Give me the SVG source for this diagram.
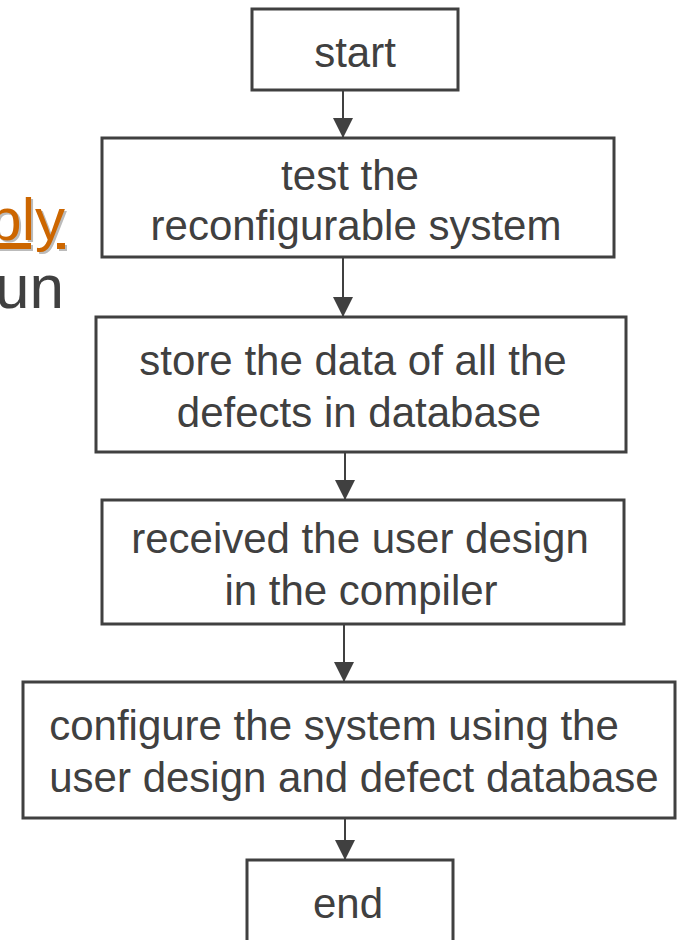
<svg xmlns="http://www.w3.org/2000/svg" width="681" height="940" viewBox="0 0 681 940">
<style>
.box{fill:#fff;stroke:#404040;stroke-width:3}
.t{font-family:"Liberation Sans",Arial,sans-serif;font-size:42px;fill:#404040;text-anchor:middle}
.c{stroke:#404040;stroke-width:2;fill:none;marker-end:url(#ah)}
</style>
<defs>
<marker id="ah" markerUnits="userSpaceOnUse" markerWidth="20" markerHeight="20" refX="20" refY="10" orient="auto" viewBox="0 0 20 20">
<path d="M0,0 L20,10 L0,20 z" fill="#404040"/>
</marker>
</defs>
<rect width="681" height="940" fill="#fff"/>
<g id="side-text" font-family="Liberation Sans, Arial, sans-serif" font-size="60">
<text x="67" y="242" text-anchor="end" fill="#bbbbbb" text-decoration="underline">bly</text>
<text x="65" y="240" text-anchor="end" fill="#cc6600" text-decoration="underline">bly</text>
<text x="64" y="308" text-anchor="end" fill="#404040" font-size="62">un</text>
</g>
<g id="connectors">
<line class="c" x1="343" y1="90" x2="343" y2="138"/>
<line class="c" x1="343" y1="257" x2="343" y2="317"/>
<line class="c" x1="345" y1="452" x2="345" y2="500"/>
<line class="c" x1="344" y1="624" x2="344" y2="682"/>
<line class="c" x1="345" y1="818" x2="345" y2="860"/>
</g>
<g id="start">
<rect class="box" x="252" y="9" width="206" height="81"/>
<text class="t" x="355" y="67">start</text>
</g>
<g id="test">
<rect class="box" x="102" y="138" width="512" height="119"/>
<text class="t" x="350" y="190">test the</text>
<text class="t" x="356" y="240">reconfigurable system</text>
</g>
<g id="store">
<rect class="box" x="96" y="317" width="530" height="135"/>
<text class="t" x="353" y="375">store the data of all the</text>
<text class="t" x="359" y="427">defects in database</text>
</g>
<g id="received">
<rect class="box" x="102" y="500" width="522" height="124"/>
<text class="t" x="360" y="553">received the user design</text>
<text class="t" x="361" y="605">in the compiler</text>
</g>
<g id="configure">
<rect class="box" x="23" y="682" width="652" height="136"/>
<text class="t" x="334" y="740">configure the system using the</text>
<text class="t" x="354" y="792">user design and defect database</text>
</g>
<g id="end">
<rect class="box" x="247" y="860" width="206" height="100"/>
<text class="t" x="348" y="918">end</text>
</g>
</svg>
